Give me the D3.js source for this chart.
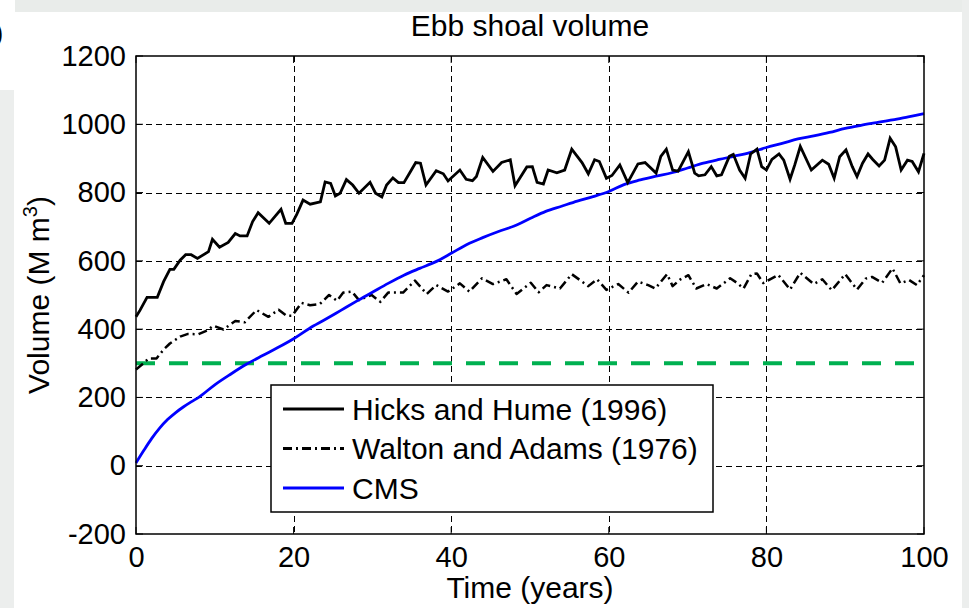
<!DOCTYPE html>
<html>
<head>
<meta charset="utf-8">
<script src="https://cdn.jsdelivr.net/npm/d3@7"></script>
<style>
  body { margin: 0; background: #fff; }
  svg { display: block; font-family: "Liberation Sans", Arial, sans-serif; }
</style>
</head>
<body>
<div id="chart"></div>
<script>
// Values
const hicksYears = [0, 0.5, 1.4, 2.7, 3.5, 4.3, 4.8, 5.6, 6.3, 7.0, 7.8, 9.2, 9.7, 10.6, 11.7, 12.6, 13.2, 14.1, 14.8, 15.5,
  16.9, 18.4, 19.0, 19.8, 20.4, 21.2, 22.1, 23.4, 24.0, 24.7, 25.3, 25.9, 26.7, 27.5, 28.3, 29.7, 30.4, 31.2, 31.8, 32.6,
  33.3, 34.0, 34.8, 35.5, 36.1, 36.8, 38.1, 39.0, 39.6, 41.1, 41.9, 42.7, 43.2, 44.0, 45.3, 46.4, 47.5, 48.1, 49.6, 50.3,
  50.9, 51.7, 52.3, 53.4, 54.4, 55.3, 56.6, 57.4, 58.2, 58.8, 59.7, 60.4, 61.4, 62.4, 63.7, 64.6, 66.0, 66.6, 67.3, 68.1,
  68.8, 70.1, 70.9, 71.4, 72.2, 73.0, 73.7, 74.3, 75.3, 75.8, 76.6, 77.3, 78.0, 78.8, 79.4, 80.0, 80.7, 81.6, 82.2, 83.0,
  83.6, 84.3, 85.7, 87.1, 87.9, 88.6, 89.3, 90.1, 90.9, 91.5, 92.2, 92.9, 93.5, 94.3, 95.0, 95.7, 96.4, 97.1, 97.9, 98.5,
  99.3, 100];
const hicksVolume = [436, 455, 493, 493, 539, 575, 575, 602, 618, 618, 607, 627, 663, 640, 654, 680, 673, 673, 715, 741,
  710, 751, 710, 710, 736, 778, 766, 773, 831, 827, 790, 798, 838, 822, 798, 830, 798, 787, 822, 843,
  829, 829, 860, 888, 886, 822, 864, 855, 834, 866, 839, 835, 847, 903, 862, 888, 896, 820, 875, 876,
  830, 825, 866, 858, 866, 927, 888, 855, 896, 891, 842, 850, 881, 829, 884, 888, 857, 906, 927, 866,
  863, 920, 857, 849, 852, 876, 849, 852, 906, 912, 866, 842, 913, 927, 876, 866, 897, 913, 895, 839,
  881, 935, 866, 895, 883, 842, 905, 925, 876, 847, 886, 913, 897, 878, 895, 959, 934, 866, 895, 891,
  861, 915];

const waltonYears = [0, 0.9, 1.6, 2.6, 3.5, 4.3, 5.6, 6.6, 7.9, 9.0, 9.8, 11.1, 12.6, 13.8, 15.3, 16.8, 18.1, 19.1, 19.8, 21.0,
  22.1, 23.3, 24.5, 25.5, 26.3, 27.4, 28.3, 29.9, 31.0, 32.0, 33.9, 35.4, 36.9, 38.1, 39.6, 41.1, 42.3, 43.9, 45.3, 47.0,
  48.3, 50.1, 51.1, 52.1, 53.8, 55.3, 57.4, 58.5, 59.7, 61.2, 62.5, 63.7, 65.0, 65.9, 67.4, 68.1, 69.1, 70.1, 71.1, 72.4,
  73.7, 75.4, 76.3, 77.1, 78.1, 78.8, 79.6, 81.5, 83.0, 84.3, 86.0, 87.1, 88.3, 90.0, 91.5, 92.6, 93.4, 94.7, 96.0, 97.0,
  98.1, 99.1, 100];
const waltonVolume = [282, 299, 314, 314, 340, 358, 378, 386, 385, 396, 410, 399, 424, 420, 456, 436, 457, 439, 439, 477,
  470, 473, 500, 483, 507, 510, 485, 500, 480, 507, 507, 542, 503, 529, 510, 534, 510, 549, 532, 546,
  503, 536, 508, 529, 519, 561, 526, 546, 515, 532, 507, 539, 529, 519, 561, 526, 546, 558, 519, 532,
  519, 549, 535, 519, 561, 563, 535, 559, 516, 565, 532, 546, 514, 561, 516, 548, 553, 536, 578, 534,
  544, 529, 558];

const cmsYears = [0, 1, 2, 3, 4, 5, 6, 7, 8, 10, 12, 14, 16, 18, 20, 22, 24, 26, 28, 30, 32, 34, 36, 38, 40, 42, 44, 46,
  48, 50, 52, 54, 56, 58, 60, 62, 64, 66, 68, 70, 72, 74, 76, 78, 80, 82, 84, 86, 88, 90, 92, 94, 96, 98, 100];
const cmsVolume = [8, 45, 80, 110, 135, 155, 172, 187, 201, 237, 268, 297, 322, 346, 372, 402, 428, 455, 482, 508, 534,
  558, 578, 597, 622, 648, 668, 686, 702, 724, 745, 760, 775, 788, 803, 824, 837, 848, 858, 872, 886, 897, 907, 918,
  932, 944, 957, 966, 976, 988, 997, 1005, 1013, 1022, 1031];

const thresholdVolume = 300;
const xTicks = [0, 20, 40, 60, 80, 100];
const yTicks = [-200, 0, 200, 400, 600, 800, 1000, 1200];
const legendNames = ["Hicks and Hume (1996)", "Walton and Adams (1976)", "CMS"];

const W = 969, H = 608;
const plot = { left: 136, right: 924, top: 56, bottom: 534 };
const FONT = '"Liberation Sans", Arial, sans-serif';

const svg = d3.select("#chart").append("svg")
  .attr("width", W)
  .attr("height", H);

// light grey frame left over from the screenshot
svg.append("rect").attr("x", 15).attr("y", 0).attr("width", W - 15).attr("height", 12).attr("fill", "#e9ecea");
svg.append("rect").attr("x", 0).attr("y", 90).attr("width", 14).attr("height", H - 90).attr("fill", "#eceeed");
svg.append("rect").attr("x", 962).attr("y", 0).attr("width", 7).attr("height", H).attr("fill", "#eceeed");
svg.append("text").attr("x", -6).attr("y", 42).attr("font-size", 28).text(")");

const x = d3.scaleLinear().domain([0, 100]).range([plot.left, plot.right]);
const y = d3.scaleLinear().domain([-200, 1200]).range([plot.bottom, plot.top]);

// plot background
svg.append("rect")
  .attr("x", plot.left).attr("y", plot.top)
  .attr("width", plot.right - plot.left).attr("height", plot.bottom - plot.top)
  .attr("fill", "#fff");

// grid
const grid = svg.append("g").attr("class", "grid");
grid.selectAll(".vgrid")
  .data(xTicks.slice(1, -1))
  .enter().append("line")
  .attr("x1", d => Math.round(x(d)) + 0.5).attr("x2", d => Math.round(x(d)) + 0.5)
  .attr("y1", plot.top).attr("y2", plot.bottom)
  .attr("stroke", "#000").attr("stroke-width", 1).attr("stroke-dasharray", "6,4");
grid.selectAll(".hgrid")
  .data(yTicks.slice(1, -1))
  .enter().append("line")
  .attr("y1", d => Math.round(y(d)) + 0.5).attr("y2", d => Math.round(y(d)) + 0.5)
  .attr("x1", plot.left).attr("x2", plot.right)
  .attr("stroke", "#000").attr("stroke-width", 1).attr("stroke-dasharray", "6,4");

// tick labels via d3 axes
const xAxis = svg.append("g")
  .attr("transform", `translate(0,${plot.bottom})`)
  .call(d3.axisBottom(x).tickValues(xTicks).tickSize(0).tickPadding(12).tickFormat(d => String(d)));
const yAxis = svg.append("g")
  .attr("transform", `translate(${plot.left},0)`)
  .call(d3.axisLeft(y).tickValues(yTicks).tickSize(0).tickPadding(10).tickFormat(d => String(d)));
[xAxis, yAxis].forEach(a => {
  a.select(".domain").remove();
  a.selectAll("text").attr("font-size", 29).attr("font-family", FONT).attr("fill", "#000");
});

// inward tick marks
const ticks = svg.append("g").attr("stroke", "#000").attr("stroke-width", 1);
xTicks.forEach(t => {
  ticks.append("line").attr("x1", x(t)).attr("x2", x(t)).attr("y1", plot.bottom).attr("y2", plot.bottom - 7);
  ticks.append("line").attr("x1", x(t)).attr("x2", x(t)).attr("y1", plot.top).attr("y2", plot.top + 7);
});
yTicks.forEach(t => {
  ticks.append("line").attr("y1", y(t)).attr("y2", y(t)).attr("x1", plot.left).attr("x2", plot.left + 7);
  ticks.append("line").attr("y1", y(t)).attr("y2", y(t)).attr("x1", plot.right).attr("x2", plot.right - 7);
});

// series
const g = svg.append("g");
const toPts = (xs, vs) => xs.map((d, i) => [d, vs[i]]);
const line = d3.line().x(d => x(d[0])).y(d => y(d[1]));

g.append("line")
  .attr("x1", x(0)).attr("x2", x(100))
  .attr("y1", y(thresholdVolume)).attr("y2", y(thresholdVolume))
  .attr("stroke", "#00b050").attr("stroke-width", 4).attr("stroke-dasharray", "19,14");

g.append("path")
  .attr("d", line(toPts(waltonYears, waltonVolume)))
  .attr("fill", "none").attr("stroke", "#000").attr("stroke-width", 2.5)
  .attr("stroke-dasharray", "9,4,2,4").attr("stroke-linejoin", "round");

g.append("path")
  .attr("d", line.curve(d3.curveMonotoneX)(toPts(cmsYears, cmsVolume)))
  .attr("fill", "none").attr("stroke", "#0000ff").attr("stroke-width", 2.8).attr("stroke-linejoin", "round");
line.curve(d3.curveLinear);

g.append("path")
  .attr("d", line(toPts(hicksYears, hicksVolume)))
  .attr("fill", "none").attr("stroke", "#000").attr("stroke-width", 2.8).attr("stroke-linejoin", "miter");

// box
svg.append("rect")
  .attr("x", plot.left).attr("y", plot.top)
  .attr("width", plot.right - plot.left).attr("height", plot.bottom - plot.top)
  .attr("fill", "none").attr("stroke", "#000").attr("stroke-width", 1.5);

// legend
const legend = svg.append("g").attr("transform", "translate(271,385)");
legend.append("rect")
  .attr("width", 442).attr("height", 127)
  .attr("fill", "#fff").attr("stroke", "#000").attr("stroke-width", 1.5);
const legendStyles = [
  { color: "#000", dash: null },
  { color: "#000", dash: "9,4,2,4" },
  { color: "#0000ff", dash: null }
];
const item = legend.selectAll(".item")
  .data(legendNames)
  .enter().append("g")
  .attr("transform", (d, i) => `translate(0,${24 + i * 39.5})`);
item.append("line")
  .attr("x1", 12).attr("x2", 73)
  .attr("stroke", (d, i) => legendStyles[i].color)
  .attr("stroke-width", 2.8)
  .attr("stroke-dasharray", (d, i) => legendStyles[i].dash);
item.append("text")
  .attr("x", 81).attr("dy", "0.35em")
  .attr("font-size", 30)
  .text(d => d);

// titles
svg.append("text")
  .attr("x", (plot.left + plot.right) / 2).attr("y", 36)
  .attr("text-anchor", "middle").attr("font-size", 30)
  .text("Ebb shoal volume");
svg.append("text")
  .attr("x", (plot.left + plot.right) / 2).attr("y", 598)
  .attr("text-anchor", "middle").attr("font-size", 30)
  .text("Time (years)");
const yl = svg.append("text")
  .attr("transform", `translate(49,${(plot.top + plot.bottom) / 2}) rotate(-90)`)
  .attr("text-anchor", "middle").attr("font-size", 30);
yl.append("tspan").text("Volume (M m");
yl.append("tspan").attr("font-size", 20).attr("dy", -12).text("3");
yl.append("tspan").attr("dy", 12).text(")");
</script>
</body>
</html>
